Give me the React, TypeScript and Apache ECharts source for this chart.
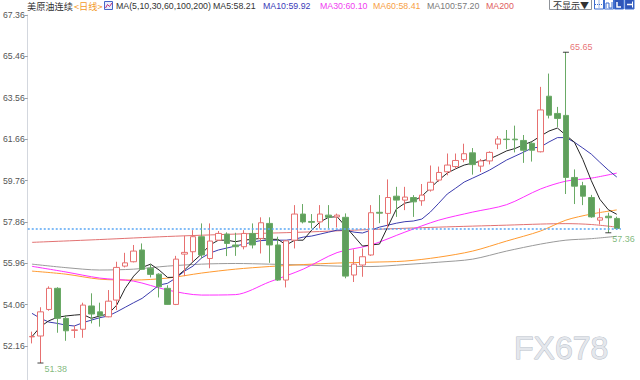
import React, { useEffect, useRef } from "react";
import * as echarts from "echarts";

// ---- data ----
const categories = [
  "1","2","3","4","5","6","7","8","9","10","11","12","13","14","15","16","17","18","19","20",
  "21","22","23","24","25","26","27","28","29","30","31","32","33","34","35","36","37","38","39","40",
  "41","42","43","44","45","46","47","48","49","50","51","52","53","54","55","56","57","58","59","60",
  "61","62","63","64","65","66","67","68","69","70",
];

const opens = [
  52.58, 52.62, 53.84, 54.81, 53.43, 52.88, 52.93, 54.0, 53.73, 53.5,
  54.27, 55.83, 56.03, 56.57, 55.73, 55.46, 54.81, 54.07, 56.38, 56.49,
  57.18, 56.18, 57.02, 57.3, 56.8, 56.72, 57.33, 57.1, 57.79, 56.8,
  55.19, 57.02, 58.22, 57.88, 57.86, 58.17, 58.09, 58.07, 55.42, 55.88,
  56.34, 58.3, 58.25, 59.04, 58.86, 58.98, 58.83, 59.32, 59.78, 60.16,
  60.4, 60.72, 61.03, 60.42, 60.66, 61.43, 61.66, 61.66, 61.6, 61.47,
  61.08, 63.63, 62.84, 62.75, 59.9, 59.52, 58.98, 57.94, 58.12, 58.02,
];
const closes = [
  52.6, 53.73, 54.81, 53.43, 52.86, 52.9, 54.04, 53.63, 53.55, 54.22,
  55.77, 55.98, 56.52, 55.68, 55.45, 54.88, 54.07, 56.15, 56.46, 57.18,
  56.34, 56.98, 57.33, 56.87, 56.72, 57.33, 56.8, 57.82, 56.8, 55.19,
  56.99, 58.22, 57.86, 57.84, 58.22, 58.07, 58.17, 55.37, 55.92, 56.26,
  58.28, 58.26, 58.98, 58.86, 59.0, 58.78, 59.09, 59.68, 60.13, 60.47,
  60.68, 60.99, 60.49, 60.66, 61.05, 61.67, 61.64, 61.63, 61.15, 61.15,
  63.0, 62.76, 62.61, 59.9, 59.5, 59.04, 58.09, 58.05, 58.05, 57.56,
];
const lows = [
  52.28, 51.38, 53.78, 52.77, 52.4, 52.53, 52.54, 53.2, 53.05, 53.48,
  53.81, 55.77, 56.0, 55.65, 55.31, 54.39, 54.05, 54.04, 55.37, 56.03,
  56.18, 55.73, 56.99, 56.29, 56.3, 56.6, 56.64, 56.41, 55.98, 55.15,
  54.85, 56.64, 57.79, 57.56, 57.56, 57.56, 57.6, 55.27, 55.1, 55.34,
  56.3, 57.8, 57.56, 58.09, 58.4, 58.09, 58.6, 59.25, 59.7, 60.0,
  60.3, 60.6, 60.03, 60.15, 60.5, 61.2, 61.2, 61.05, 60.57, 60.63,
  61.05, 62.61, 62.22, 59.14, 58.68, 58.63, 58.05, 57.74, 57.36, 57.5,
];
const highs = [
  52.82, 53.94, 54.9, 54.86, 53.58, 53.1, 54.15, 54.58, 54.15, 54.73,
  56.03, 56.44, 56.8, 56.87, 55.91, 55.5, 54.95, 56.3, 57.22, 57.48,
  57.79, 57.79, 57.44, 57.38, 57.36, 57.48, 57.79, 58.07, 58.07, 57.18,
  57.02, 58.63, 58.68, 58.22, 58.63, 58.63, 58.24, 58.25, 56.6, 56.64,
  58.63, 59.09, 59.81, 59.47, 59.47, 59.09, 59.6, 60.45, 60.4, 61.0,
  61.0, 61.45, 61.25, 60.75, 61.1, 61.8, 62.08, 62.28, 61.85, 61.55,
  64.06, 64.67, 63.14, 65.65, 60.27, 59.7, 59.1, 58.48, 58.28, 58.1,
];

const ma5 = [
  52.59, 53.05, 53.32, 53.48, 53.54, 53.58, 53.61, 53.43, 53.54, 53.63,
  54.04, 54.81, 55.37, 55.77, 55.92, 55.65, 55.31, 55.32, 55.65, 56.03,
  56.38, 56.8, 57.02, 57.02, 56.95, 57.02, 57.06, 57.1, 57.06, 57.06,
  56.8, 57.02, 57.02, 57.48, 57.86, 58.07, 58.1, 57.65, 57.2, 56.75,
  56.8, 56.84, 57.65, 58.45, 58.72, 58.81, 59.04, 59.41, 59.78, 60.1,
  60.3, 60.47, 60.56, 60.65, 60.75, 60.93, 61.12, 61.23, 61.4, 61.55,
  61.8, 62.03, 62.17, 61.84, 61.52, 60.72, 59.75, 58.9, 58.42, 58.21,
];
const ma10 = [
  53.66, 53.43, 53.26, 53.2, 53.12, 53.08, 53.23, 53.35, 53.46, 53.54,
  53.73, 53.94, 54.15, 54.35, 54.65, 54.96, 55.04, 55.29, 55.6, 55.83,
  56.2, 56.43, 56.57, 56.66, 56.75, 56.84, 56.93, 57.0, 57.02, 57.02,
  57.02, 57.07, 57.16, 57.21, 57.3, 57.39, 57.48, 57.48, 57.39, 57.35,
  57.48, 57.62, 57.71, 57.8, 57.87, 57.9, 57.99, 58.31, 58.72, 59.14,
  59.41, 59.69, 59.87, 60.05, 60.24, 60.47, 60.7, 60.88, 61.06, 61.25,
  61.3, 61.53, 61.73, 61.73, 61.52, 61.25, 60.97, 60.6, 60.24, 59.92,
];

// slow moving averages, read at every 4th candle (index into categories)
const slowIdx = [0, 4, 8, 12, 16, 20, 24, 28, 32, 36, 40, 44, 48, 52, 56, 60, 63, 66, 69];
const ma30 = [55.82, 55.56, 55.28, 55.14, 54.73, 54.5, 54.52, 55.1, 55.69, 56.45, 56.8, 57.39, 57.94, 58.31, 58.65, 59.37, 59.73, 59.87, 60.1];
const ma60 = [55.6, 55.46, 55.23, 55.19, 55.28, 55.51, 55.69, 55.81, 55.9, 55.97, 56.01, 56.06, 56.24, 56.52, 56.98, 57.44, 57.94, 58.22, 58.41];
const ma100 = [55.92, 55.76, 55.65, 55.69, 55.83, 55.92, 55.95, 55.92, 55.88, 55.83, 55.81, 55.9, 56.01, 56.15, 56.52, 56.84, 57.02, 57.09, 57.2];
const ma200Idx = [0, 8, 16, 24, 32, 40, 48, 56, 60, 63, 66, 69];
const ma200 = [56.92, 57.05, 57.19, 57.3, 57.39, 57.51, 57.62, 57.71, 57.76, 57.78, 57.74, 57.62];

const yTicks = [52.16, 54.06, 55.96, 57.86, 59.76, 61.66, 63.56, 65.46, 67.36];
const markIdx = [1, 63, 68]; // candles whose extreme is labelled
const markKind = ["low", "high", "low"];

const legendItems = [
  { text: "MA5:58.21", x: 213, color: "#333333" },
  { text: "MA10:59.92", x: 263, color: "#3a3ab8" },
  { text: "MA30:60.10", x: 320, color: "#f040f0" },
  { text: "MA60:58.41", x: 373, color: "#f7a046" },
  { text: "MA100:57.20", x: 427, color: "#7a7a7a" },
  { text: "MA200", x: 486, color: "#e06060" },
];

const NUM_FONT = '"Liberation Sans", Arial, sans-serif';
const CJK_FONT = '"Noto Sans CJK SC", "Liberation Sans", sans-serif';
const LEG_SIZE = 8.8;

export default function App() {
  const ref = useRef<HTMLDivElement>(null);

  useEffect(() => {
    if (!ref.current) return;
    const chart = echarts.init(ref.current, undefined, { renderer: "svg" });

    const candleData = opens.map((o, i) => [o, closes[i], lows[i], highs[i]]);
    const pair = (idx: number[], vals: number[]) => idx.map((k, i) => [k, vals[i]]);

    const markData = markIdx.map((k, i) => {
      const isLow = markKind[i] === "low";
      const v = isLow ? lows[k] : highs[k];
      return {
        value: [k, v],
        label: {
          show: true,
          position: "right",
          distance: 1,
          offset: [0, isLow ? 6 : -5],
          formatter: v.toFixed(2),
          color: isLow ? "#5fa85c" : "#e25050",
          fontSize: 9,
          fontFamily: NUM_FONT,
        },
      };
    });

    const lineBase = {
      type: "line",
      symbol: "none",
      silent: true,
      z: 3,
    };

    const graphics: any[] = [
      {
        type: "text",
        x: 27,
        y: 6,
        style: { text: "美原油连续", fill: "#333", font: `9.2px ${CJK_FONT}`, verticalAlign: "middle" },
      },
      {
        type: "text",
        x: 74,
        y: 6,
        style: { text: "<日线>", fill: "#f39a2b", font: `9.2px ${CJK_FONT}`, verticalAlign: "middle" },
      },
      {
        type: "rect",
        shape: { x: 104.5, y: 1.5, width: 8, height: 8 },
        style: { fill: "#e9eefc", stroke: "#4866c8", lineWidth: 1 },
      },
      {
        type: "polyline",
        shape: { points: [[105.5, 8], [107.5, 4.5], [109.5, 6.5], [112, 3]] },
        style: { fill: "none", stroke: "#c0307a", lineWidth: 1 },
      },
      {
        type: "text",
        x: 116,
        y: 6,
        style: { text: "MA(5,10,30,60,100,200)", fill: "#333", font: `${LEG_SIZE}px ${NUM_FONT}`, verticalAlign: "middle" },
      },
      ...legendItems.map((it) => ({
        type: "text",
        x: it.x,
        y: 6,
        style: { text: it.text, fill: it.color, font: `${LEG_SIZE}px ${NUM_FONT}`, verticalAlign: "middle" },
      })),
      // right-hand controls
      {
        type: "rect",
        shape: { x: 549.5, y: -1.5, width: 42, height: 11 },
        style: { fill: "#fff", stroke: "#8f9399", lineWidth: 1 },
      },
      {
        type: "text",
        x: 553,
        y: 5,
        style: { text: "不显示▼", fill: "#333", font: `9px ${CJK_FONT}`, verticalAlign: "middle" },
      },
      ...[594.5, 604.5, 614.5, 625].map((x, i) => ({
        type: "rect",
        shape: { x, y: -0.5, width: 9, height: 9.5 },
        style: { fill: i >= 2 ? "#2f56b8" : "#fff", stroke: "#3f6fd0", lineWidth: 1 },
      })),
      { type: "line", shape: { x1: 599, y1: 0.5, x2: 599, y2: 8.5 }, style: { stroke: "#3f6fd0", lineDash: [1, 1] } },
      { type: "line", shape: { x1: 595, y1: 4.5, x2: 603, y2: 4.5 }, style: { stroke: "#3f6fd0", lineDash: [1, 1] } },
      { type: "polyline", shape: { points: [[606, 8], [606, 3], [609, 3], [609, 8], [612, 8], [612, 2]] }, style: { fill: "none", stroke: "#3f6fd0" } },
      { type: "polyline", shape: { points: [[617, 2], [617, 7], [621, 7]] }, style: { fill: "none", stroke: "#fff", lineWidth: 1.5 } },
      { type: "polyline", shape: { points: [[627, 4.5], [632, 4.5]] }, style: { fill: "none", stroke: "#fff", lineWidth: 1.5 } },
      { type: "line", shape: { x1: 632.5, y1: 1.5, x2: 632.5, y2: 7.5 }, style: { stroke: "#fff" } },
      // watermark
      {
        type: "text",
        x: 514,
        y: 348,
        z: -1,
        style: {
          text: "FX678",
          fill: "#e4e7ec",
          stroke: "#b7bec9",
          lineWidth: 1,
          font: `32px ${NUM_FONT}`,
          verticalAlign: "middle",
        },
      },
    ];

    chart.setOption({
      animation: false,
      backgroundColor: "#ffffff",
      grid: { left: 26, right: 19, top: 15, bottom: 0 },
      xAxis: {
        type: "category",
        data: categories,
        boundaryGap: true,
        axisLine: { show: false },
        axisTick: { show: false },
        axisLabel: { show: false },
        splitLine: { show: false },
      },
      yAxis: {
        type: "value",
        min: 50.6,
        max: 67.36,
        scale: true,
        axisLine: { show: true, lineStyle: { color: "#d3d7de" } },
        axisTick: { show: true, customValues: yTicks, length: 3, lineStyle: { color: "#9aa0a8" } },
        axisLabel: {
          customValues: yTicks,
          formatter: (v: number) => v.toFixed(2),
          color: "#555",
          fontSize: 8.7,
          margin: 3,
          fontFamily: NUM_FONT,
        },
        splitLine: { show: false },
      },
      graphic: graphics,
      series: [
        {
          type: "candlestick",
          data: candleData,
          barWidth: 6,
          z: 4,
          itemStyle: {
            color: "#ffffff",
            color0: "#5f9f5c",
            borderColor: "#e77070",
            borderColor0: "#6aaa66",
            borderWidth: 1,
          },
          markLine: {
            silent: true,
            symbol: ["none", "none"],
            label: { show: false },
            lineStyle: { color: "#5aa6f5", type: [2, 2], width: 1.5 },
            data: [{ yAxis: closes[closes.length - 1] }],
          },
        },
        { ...lineBase, name: "MA200", data: pair(ma200Idx, ma200), smooth: 0.3, lineStyle: { color: "#e27272", width: 1 } },
        { ...lineBase, name: "MA100", data: pair(slowIdx, ma100), smooth: 0.3, lineStyle: { color: "#9a9a9a", width: 1 } },
        { ...lineBase, name: "MA60", data: pair(slowIdx, ma60), smooth: 0.3, lineStyle: { color: "#ff9a30", width: 1 } },
        { ...lineBase, name: "MA30", data: pair(slowIdx, ma30), smooth: 0.3, lineStyle: { color: "#ff30ff", width: 1 } },
        { ...lineBase, name: "MA10", data: ma10, lineStyle: { color: "#3c3cae", width: 1 } },
        { ...lineBase, name: "MA5", data: ma5, lineStyle: { color: "#262626", width: 1 } },
        {
          type: "scatter",
          symbol: "rect",
          symbolSize: [6, 1],
          itemStyle: { color: "#111" },
          z: 6,
          silent: true,
          data: markData,
        },
      ],
    });

    return () => chart.dispose();
  }, []);

  return (
    <div
      ref={ref}
      style={{ position: "fixed", left: 0, top: 0, width: 640, height: 380, background: "#fff" }}
    />
  );
}
